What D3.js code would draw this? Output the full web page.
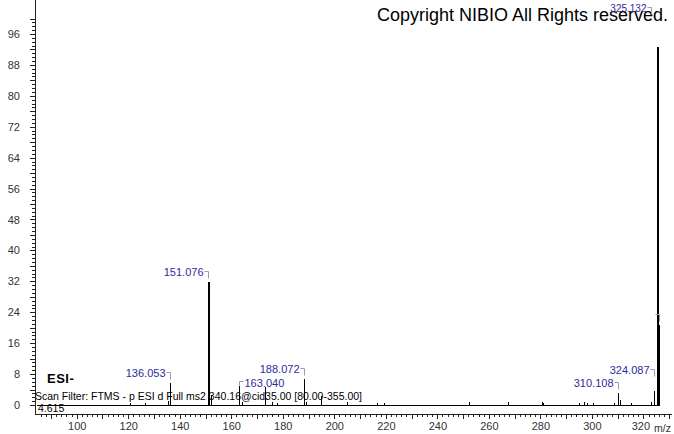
<!DOCTYPE html>
<html>
<head>
<meta charset="utf-8">
<script src="https://cdn.jsdelivr.net/npm/d3@7"></script>
<style>
  body { margin: 0; background: #fff; }
  svg { display: block; font-family: "Liberation Sans", Arial, sans-serif; }
</style>
</head>
<body>
<svg id="chart" width="674" height="434"></svg>
<script>
// spectrum peaks (m/z, relative abundance)
var mzValues = [120.6, 126.5, 135.6, 136.053, 151.076, 152.08, 163.040, 164.0, 173.2, 175.9, 177.7,
    188.072, 189.07, 194.9, 205.0, 216.6, 219.2, 252.2, 267.3, 280.6, 281.2, 295.0, 296.9, 298.0,
    300.4, 308.6, 310.108, 311.1, 315.3, 323.1, 324.087, 325.132, 326.135];
var abundance = [0.6, 0.5, 1.0, 5.7, 31.8, 2.2, 4.8, 0.7, 4.6, 0.8, 0.6,
    6.6, 0.9, 2.2, 0.8, 0.4, 0.4, 0.9, 0.8, 0.7, 0.5, 0.6, 0.8, 0.5,
    0.5, 0.6, 3.2, 1.4, 0.4, 0.9, 3.7, 100, 20.7];

// labelled peaks
var labelMz = [136.053, 151.076, 163.040, 188.072, 310.108, 324.087, 325.132, 326.135];
var labelText = ["136.053", "151.076", "163.040", "188.072", "310.108", "324.087", "325.132", ""];

var yTickLabels = [0, 8, 16, 24, 32, 40, 48, 56, 64, 72, 80, 88, 96];
var xTickLabels = [100, 120, 140, 160, 180, 200, 220, 240, 260, 280, 300, 320];

// label placement (side of text, lift above peak top in px)
var labelPlace = {
    "163.04": { side: "right", lift: 5 },
    "324.087": { side: "left", lift: 22 },
    "325.132": { side: "left", lift: 12, small: true, shift: -6 }
};

var svg = d3.select("#chart");

var x = d3.scaleLinear().domain([83.8, 331.1]).range([35, 672]);
var y = d3.scaleLinear().domain([0, 100]).range([405, 18.5]);
var axisY = 414;

// peaks
var peaks = mzValues.map((m, i) => ({ mz: m, v: abundance[i] }));

var g = svg.append("g").attr("shape-rendering", "crispEdges");

g.append("line")
    .attr("x1", x(84.5)).attr("x2", x(326.6))
    .attr("y1", y(0)).attr("y2", y(0))
    .attr("stroke", "#000").attr("stroke-width", 1);

g.selectAll(".peak")
    .data(peaks)
    .join("line")
    .attr("class", "peak")
    .attr("x1", d => Math.round(x(d.mz)) + 0.5)
    .attr("x2", d => Math.round(x(d.mz)) + 0.5)
    .attr("y1", y(0))
    .attr("y2", d => y(d.v))
    .attr("stroke", "#000")
    .attr("stroke-width", d => d.v > 30 ? 2 : 1);

// copyright box + text
svg.append("rect")
    .attr("x", 372).attr("y", 0).attr("width", 302).attr("height", 47)
    .attr("fill", "#fff");
svg.append("text")
    .attr("x", 377).attr("y", 21)
    .attr("font-size", 18)
    .attr("fill", "#000")
    .text("Copyright NIBIO All Rights reserved.");

// axes
var yAxisG = svg.append("g").attr("transform", "translate(35,0)").attr("shape-rendering", "crispEdges");
yAxisG.call(d3.axisLeft(y).tickValues(d3.range(0, 101, 1)).tickSize(3).tickFormat(""));
yAxisG.call(g2 => g2.select(".domain").remove());
var yAxisG2 = svg.append("g").attr("transform", "translate(35,0)").attr("shape-rendering", "crispEdges");
yAxisG2.call(d3.axisLeft(y).tickValues(d3.range(0, 101, 4)).tickSize(5).tickPadding(10)
    .tickFormat(d => yTickLabels.includes(d) ? d : ""));
yAxisG2.select(".domain").remove();

var xAxisG = svg.append("g").attr("transform", `translate(0,${axisY})`).attr("shape-rendering", "crispEdges");
xAxisG.call(d3.axisBottom(x).tickValues(d3.range(86, 331, 2)).tickSize(3).tickFormat(""));
xAxisG.select(".domain").remove();
var xAxisG2 = svg.append("g").attr("transform", `translate(0,${axisY})`).attr("shape-rendering", "crispEdges");
xAxisG2.call(d3.axisBottom(x).tickValues(d3.range(90, 331, 10)).tickSize(5).tickPadding(3)
    .tickFormat(d => xTickLabels.includes(d) ? d : ""));
xAxisG2.select(".domain").remove();

svg.selectAll(".tick text")
    .attr("font-family", "Liberation Sans, Arial, sans-serif")
    .attr("font-size", 11)
    .attr("fill", "#333");
// pull the last label a bit left to leave room for the unit
xAxisG2.selectAll(".tick text").filter(d => d === 320).attr("dx", -3);
svg.selectAll(".tick line").attr("stroke", "#222");

// axis lines
svg.append("line").attr("x1", 35.5).attr("x2", 35.5).attr("y1", 0).attr("y2", axisY + 0.5)
    .attr("stroke", "#222");
svg.append("line").attr("x1", 35).attr("x2", 672).attr("y1", axisY + 0.5).attr("y2", axisY + 0.5)
    .attr("stroke", "#222");

svg.append("text")
    .attr("x", 654).attr("y", 432)
    .attr("font-size", 10.5).attr("fill", "#333")
    .text("m/z");

// peak labels
var labG = svg.append("g");
labelMz.forEach((m, i) => {
    var v = abundance[mzValues.indexOf(m)];
    var key = String(m);
    var p = labelPlace[key] || { side: "left", lift: 11 };
    var px = Math.round(x(m)) + 0.5 + (p.shift || 0);
    var top = y(v);
    var cy = Math.round(top - p.lift) + 0.5;
    var bc = "#9a9ab8";
    if (p.side === "left") {
        labG.append("line").attr("x1", px - 4).attr("x2", px).attr("y1", cy).attr("y2", cy).attr("stroke", bc);
        labG.append("line").attr("x1", px).attr("x2", px).attr("y1", cy).attr("y2", Math.min(cy + 7, top - 3)).attr("stroke", bc);
        labG.append("text")
            .attr("x", px - 5).attr("y", cy + 4)
            .attr("text-anchor", "end")
            .attr("font-size", p.small ? 10 : 11)
            .attr("fill", "#2c2c9c")
            .text(labelText[i]);
    } else {
        labG.append("line").attr("x1", px).attr("x2", px + 4).attr("y1", cy).attr("y2", cy).attr("stroke", bc);
        labG.append("line").attr("x1", px).attr("x2", px).attr("y1", cy).attr("y2", top - 1).attr("stroke", bc);
        labG.append("text")
            .attr("x", px + 5).attr("y", cy + 5)
            .attr("font-size", 11)
            .attr("fill", "#2c2c9c")
            .text(labelText[i]);
    }
});

// scan info
svg.append("text")
    .attr("x", 47).attr("y", 383)
    .attr("font-size", 13).attr("font-weight", "bold")
    .attr("letter-spacing", 0.5)
    .text("ESI-");
svg.append("text")
    .attr("x", 35).attr("y", 400)
    .attr("font-size", 10.5)
    .text("Scan Filter: FTMS - p ESI d Full ms2 340.16@cid35.00 [80.00-355.00]");
svg.append("text")
    .attr("x", 38).attr("y", 412)
    .attr("font-size", 10.5)
    .text("4.615");
</script>
</body>
</html>
